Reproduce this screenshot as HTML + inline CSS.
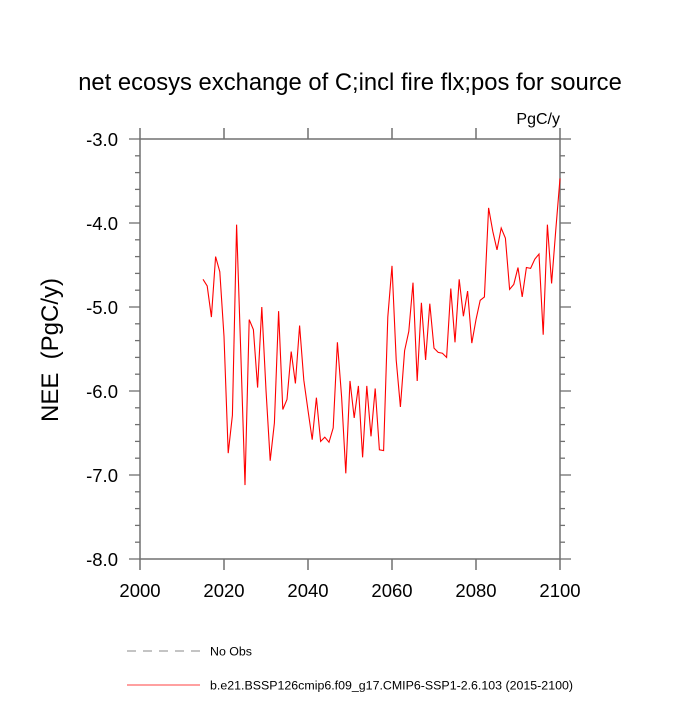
<!DOCTYPE html>
<html><head><meta charset="utf-8"><style>
body{margin:0;background:#fff;}
svg text{font-family:"Liberation Sans",sans-serif;fill:#000;}
</style></head><body>
<svg id="chart" width="700" height="700">
<text x="350" y="90" font-size="23.8" text-anchor="middle">net ecosys exchange of C;incl fire flx;pos for source</text>
<text x="560" y="124" font-size="16" text-anchor="end">PgC/y</text>
<text transform="translate(58,350) rotate(-90)" font-size="24" text-anchor="middle">NEE&#160;&#160;(PgC/y)</text>
<g id="axes"></g>
<polyline id="series" fill="none" stroke="#ff0000" stroke-width="1.1"/>
<g>
<line x1="127" y1="651" x2="200" y2="651" stroke="#888" stroke-dasharray="9,7"/>
<text x="210" y="655.5" font-size="12.4">No Obs</text>
<line x1="127" y1="685" x2="200" y2="685" stroke="#ff0000" stroke-width="0.8"/>
<text x="210" y="689.5" font-size="12.4">b.e21.BSSP126cmip6.f09_g17.CMIP6-SSP1-2.6.103 (2015-2100)</text>
</g>
</svg>
<script>
const startYear = 2015;
const values = [-4.67,-4.75,-5.12,-4.40,-4.58,-5.35,-6.74,-6.29,-4.02,-5.55,-7.12,-5.15,-5.27,-5.96,-5.00,-5.99,-6.83,-6.38,-5.05,-6.22,-6.10,-5.53,-5.91,-5.22,-5.87,-6.23,-6.58,-6.08,-6.60,-6.55,-6.61,-6.44,-5.42,-6.07,-6.98,-5.88,-6.32,-5.94,-6.79,-5.94,-6.54,-5.97,-6.70,-6.71,-5.12,-4.51,-5.63,-6.19,-5.52,-5.29,-4.71,-5.88,-4.95,-5.63,-4.96,-5.49,-5.54,-5.55,-5.60,-4.78,-5.42,-4.67,-5.11,-4.81,-5.43,-5.15,-4.92,-4.88,-3.82,-4.10,-4.32,-4.06,-4.18,-4.79,-4.73,-4.53,-4.88,-4.53,-4.54,-4.43,-4.37,-5.33,-4.02,-4.72,-4.08,-3.47];
const xTicks = [2000,2020,2040,2060,2080,2100];
const yTicks = [-3,-4,-5,-6,-7,-8];
const x0=140,x1=560,y0=139,y1=559;
const xs = v => x0 + (v-2000)/100*(x1-x0);
const ys = v => y0 + (-3 - v)/5*(y1-y0);
const NS='http://www.w3.org/2000/svg';
const ax=document.getElementById('axes');
function ln(a,b,c,d,w,name){const l=document.createElementNS(NS,'line');l.setAttribute('x1',a);l.setAttribute('y1',b);l.setAttribute('x2',c);l.setAttribute('y2',d);l.setAttribute('stroke','#707070');l.setAttribute('stroke-width',w);


ax.appendChild(l);}
const r=document.createElementNS(NS,'rect');r.setAttribute('x',x0);r.setAttribute('y',y0);r.setAttribute('width',x1-x0);r.setAttribute('height',y1-y0);r.setAttribute('fill','none');r.setAttribute('stroke','#707070');r.setAttribute('stroke-width','1.5');


ax.appendChild(r);
xTicks.forEach(t=>{const x=xs(t);ln(x,y1,x,y1+11,1.5,'x-tick');ln(x,y0,x,y0-11,1.5,'x-tick-top');});
for(let k=0;k<=25;k++){const v=-3-k*0.2;const maj=(k%5===0);const L=maj?11:5;const y=ys(v);
ln(x0,y,x0-L,y,1.3,'y-tick');ln(x1,y,x1+L,y,1.3,'y-tick-right');}
xTicks.forEach(t=>{const tx=document.createElementNS(NS,'text');tx.setAttribute('x',xs(t));tx.setAttribute('y',y1+38);tx.setAttribute('font-size','18.5');tx.setAttribute('text-anchor','middle');tx.textContent=t;


ax.appendChild(tx);});
yTicks.forEach(t=>{const tx=document.createElementNS(NS,'text');tx.setAttribute('x',x0-22);tx.setAttribute('y',ys(t)+7);tx.setAttribute('font-size','18.5');tx.setAttribute('text-anchor','end');tx.textContent=t.toFixed(1);


ax.appendChild(tx);});
document.getElementById('series').setAttribute('points',values.map((v,i)=>xs(startYear+i)+','+ys(v)).join(' '));
</script>
</body></html>
